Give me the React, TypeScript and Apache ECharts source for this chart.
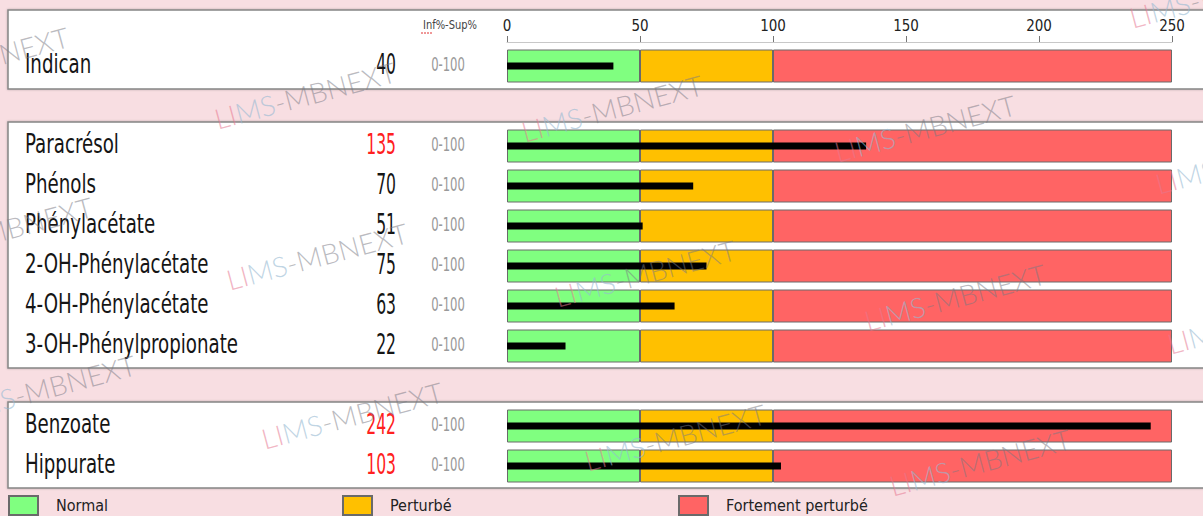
import React, { useEffect, useRef } from "react";
import * as echarts from "echarts";

// ---- data ----
const analytes = [
  "Indican",
  "Paracrésol",
  "Phénols",
  "Phénylacétate",
  "2-OH-Phénylacétate",
  "4-OH-Phénylacétate",
  "3-OH-Phénylpropionate",
  "Benzoate",
  "Hippurate",
];
const results = [40, 135, 70, 51, 75, 63, 22, 242, 103];
const refRanges = ["0-100", "0-100", "0-100", "0-100", "0-100", "0-100", "0-100", "0-100", "0-100"];
const groupIndex = [0, 1, 1, 1, 1, 1, 1, 2, 2];
const zoneNames = ["Normal", "Perturbé", "Fortement perturbé"];
const zoneEdges = [0, 50, 100, 250];
const zoneColors = ["#80FF80", "#FFC000", "#FF6464"];
const upperLimit = 100;
const rangeHeader = "Inf%-Sup%";
const watermark = "LIMS-MBNEXT";

const FONT = "'Liberation Sans Narrow', 'DejaVu Sans Condensed', 'Roboto Condensed', 'Arial Narrow', sans-serif";

// build slots with empty rows between groups
type Slot = { name: string; value: number | null; range: string };
const slots: Slot[] = [];
analytes.forEach((a, i) => {
  if (i > 0 && groupIndex[i] !== groupIndex[i - 1]) slots.push({ name: "", value: null, range: "" });
  slots.push({ name: a, value: results[i], range: refRanges[i] });
});
const labelRows = slots
  .map((s, idx) => ({ ...s, slot: idx }))
  .filter((s) => s.value !== null);

const wmPositions = [
  [1220, -6],
  [-22, 60], [305, 95], [612, 108], [925, 128], [1246, 160],
  [2, 230], [317, 256], [645, 273], [955, 297], [1258, 320],
  [45, 388], [352, 415], [675, 437], [980, 462],
];

export default function App() {
  const ref = useRef<HTMLDivElement>(null);
  useEffect(() => {
    if (!ref.current) return;
    const chart = echarts.init(ref.current, null, { renderer: "svg" });

    const catNames = slots.map((s) => s.name);

    const zoneSeries = zoneNames.map((n, zi) => ({
      name: n,
      type: "bar",
      stack: "zones",
      yAxisIndex: 0,
      barWidth: 33,
      itemStyle: { color: zoneColors[zi], borderColor: "#6a6a6a", borderWidth: 1 },
      data: slots.map((s) => (s.value === null ? "-" : zoneEdges[zi + 1] - zoneEdges[zi])),
      z: 2,
    }));

    const resultSeries = {
      name: "Résultat",
      type: "bar",
      yAxisIndex: 1,
      barWidth: 7,
      itemStyle: { color: "#000" },
      data: slots.map((s) => (s.value === null ? "-" : s.value)),
      z: 5,
    };

    const labelSeries = {
      name: "labels",
      type: "custom",
      yAxisIndex: 0,
      clip: false,
      silent: true,
      data: labelRows.map((r) => [0, r.slot]),
      renderItem: (params: any, api: any) => {
        const row = labelRows[params.dataIndex];
        const y = api.coord([0, api.value(1)])[1] - 2;
        const v = row.value as number;
        return {
          type: "group",
          children: [
            {
              type: "text",
              x: 25,
              y,
              scaleX: 0.75,
              style: { text: row.name, fontFamily: FONT, fontSize: 27, fill: "#151515", align: "left", verticalAlign: "middle" },
            },
            {
              type: "text",
              x: 396,
              y,
              scaleX: 0.62,
              style: { text: String(v), fontFamily: FONT, fontSize: 28, fill: v > upperLimit ? "#FF2020" : "#151515", align: "right", verticalAlign: "middle" },
            },
            {
              type: "text",
              x: 448,
              y: y + 1,
              scaleX: 0.68,
              style: { text: row.range, fontFamily: FONT, fontSize: 19, fill: "#9a9a9a", align: "center", verticalAlign: "middle" },
            },
          ],
        };
      },
      z: 6,
    };

    const baseY = {
      type: "category",
      inverse: true,
      gridIndex: 0,
      position: "left",
      data: catNames,
      axisLine: { show: false },
      axisTick: { show: false },
      axisLabel: { show: false },
      splitLine: { show: false },
    };

    const panel = (y: number, h: number) => ({
      type: "rect",
      z: -10,
      shape: { x: 8, y, width: 1210, height: h },
      style: { fill: "#fff", stroke: "#858585", lineWidth: 1.5, shadowBlur: 2, shadowColor: "rgba(0,0,0,0.25)" },
    });

    const wmFont = "Lato, 'Open Sans', sans-serif";
    const wmPink = "rgba(230,120,145,0.55)";
    const wmBlue = "rgba(150,185,210,0.6)";
    const wmGray = "rgba(120,120,130,0.5)";

    const option: any = {
      animation: false,
      backgroundColor: "#F8DEE2",
      grid: { left: 507, width: 665, top: 46, height: 440 },
      xAxis: {
        type: "value",
        position: "top",
        min: 0,
        max: 250,
        interval: 50,
        offset: 4,
        axisLine: { show: true, lineStyle: { color: "#c8c8c8", width: 1 } },
        axisTick: { show: true, length: 6, lineStyle: { color: "#777" } },
        splitLine: { show: false },
        axisLabel: { fontFamily: FONT, fontSize: 15, color: "#222", margin: 9 },
      },
      yAxis: [{ ...baseY }, { ...baseY }],
      legend: zoneNames.map((n, i) => ({
        data: [n],
        left: [8, 342, 678][i],
        top: 495,
        padding: 0,
        icon: "rect",
        itemWidth: 29,
        itemHeight: 19,
        selectedMode: false,
        textStyle: { fontFamily: FONT, fontSize: 16, color: "#222", padding: [0, 0, 0, 13] },
      })),
      series: [...zoneSeries, resultSeries, labelSeries],
      graphic: [
        panel(10, 79),
        panel(122, 246),
        panel(402, 86),
        {
          type: "text",
          x: 450,
          y: 25,
          z: 10,
          scaleX: 0.85,
          style: { text: rangeHeader, fontFamily: FONT, fontSize: 13, fill: "#444", align: "center", verticalAlign: "middle" },
        },
        {
          type: "line",
          z: 10,
          shape: { x1: 421, y1: 33, x2: 433, y2: 33 },
          style: { stroke: "#e03030", lineWidth: 1, lineDash: [2, 1] },
        },
        ...wmPositions.map(([x, y]) => ({
          type: "text",
          x,
          y,
          z: 100,
          rotation: (15 * Math.PI) / 180,
          silent: true,
          style: {
            text: `{a|${watermark.slice(0, 2)}}{b|${watermark.slice(2, 4)}}{c|${watermark.slice(4)}}`,
            align: "center",
            verticalAlign: "middle",
            rich: {
              a: { fontFamily: wmFont, fontWeight: 300, fontSize: 28, fill: wmPink, color: wmPink },
              b: { fontFamily: wmFont, fontWeight: 300, fontSize: 28, fill: wmBlue, color: wmBlue },
              c: { fontFamily: wmFont, fontWeight: 300, fontSize: 28, fill: wmGray, color: wmGray },
            },
          },
        })),
      ],
    };

    chart.setOption(option);
    return () => chart.dispose();
  }, []);

  return <div ref={ref} style={{ position: "fixed", left: 0, top: 0, width: 1203, height: 516 }} />;
}
